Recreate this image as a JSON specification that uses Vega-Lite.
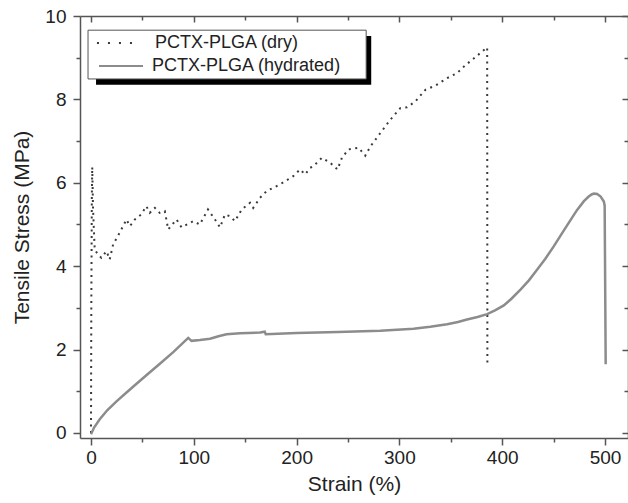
{
  "$schema": "https://vega.github.io/schema/vega-lite/v6.json",
  "width": 548,
  "height": 422,
  "autosize": "none",
  "padding": {"left": 80, "top": 16, "right": 0, "bottom": 65},
  "background": "white",
  "config": {
    "view": {"stroke": null},
    "font": "Liberation Sans",
    "axis": {
      "grid": false,
      "domainColor": "#555555",
      "domainWidth": 1.5,
      "tickColor": "#555555",
      "tickWidth": 1.5,
      "labelFont": "Liberation Sans",
      "labelFontSize": 19,
      "labelColor": "#222222",
      "titleFont": "Liberation Sans",
      "titleFontSize": 21,
      "titleFontWeight": "normal",
      "titleColor": "#222222"
    }
  },
  "datasets": {
    "dry": [
      {"strain": 0, "stress": 0.0}, {"strain": 0.3, "stress": 3.0}, {"strain": 0.8, "stress": 5.6}, {"strain": 1.2, "stress": 6.38},
      {"strain": 2.0, "stress": 5.36}, {"strain": 3.6, "stress": 4.4}, {"strain": 6.8, "stress": 4.28}, {"strain": 10.1, "stress": 4.2},
      {"strain": 15, "stress": 4.36}, {"strain": 18.2, "stress": 4.16}, {"strain": 21.5, "stress": 4.52}, {"strain": 27.8, "stress": 4.8},
      {"strain": 34.5, "stress": 5.12}, {"strain": 37.8, "stress": 4.96}, {"strain": 42.6, "stress": 5.12}, {"strain": 48.8, "stress": 5.24},
      {"strain": 53.8, "stress": 5.44}, {"strain": 57.2, "stress": 5.28}, {"strain": 62.1, "stress": 5.4}, {"strain": 66.8, "stress": 5.28},
      {"strain": 71.8, "stress": 5.32}, {"strain": 75.1, "stress": 4.88}, {"strain": 83.2, "stress": 5.12}, {"strain": 88.1, "stress": 4.93},
      {"strain": 99.4, "stress": 5.08}, {"strain": 105.8, "stress": 5.0}, {"strain": 113.8, "stress": 5.36}, {"strain": 120.6, "stress": 5.12},
      {"strain": 125.5, "stress": 4.93}, {"strain": 130.3, "stress": 5.24}, {"strain": 135.2, "stress": 5.2}, {"strain": 140.1, "stress": 5.08},
      {"strain": 146.6, "stress": 5.36}, {"strain": 154.7, "stress": 5.52}, {"strain": 157.8, "stress": 5.4}, {"strain": 164.4, "stress": 5.64},
      {"strain": 170.8, "stress": 5.8}, {"strain": 183.8, "stress": 5.96}, {"strain": 196.8, "stress": 6.16}, {"strain": 203.4, "stress": 6.32},
      {"strain": 208.3, "stress": 6.2}, {"strain": 213.2, "stress": 6.36}, {"strain": 216.4, "stress": 6.4}, {"strain": 224.6, "stress": 6.6},
      {"strain": 232.7, "stress": 6.48}, {"strain": 239.8, "stress": 6.32}, {"strain": 244.1, "stress": 6.6}, {"strain": 250.5, "stress": 6.8},
      {"strain": 260.3, "stress": 6.84}, {"strain": 266.8, "stress": 6.65}, {"strain": 271.7, "stress": 6.87}, {"strain": 281.4, "stress": 7.19},
      {"strain": 291.1, "stress": 7.51}, {"strain": 300.9, "stress": 7.79}, {"strain": 307.4, "stress": 7.81}, {"strain": 315.5, "stress": 7.95},
      {"strain": 325.3, "stress": 8.23}, {"strain": 335, "stress": 8.33}, {"strain": 346.4, "stress": 8.51}, {"strain": 356.1, "stress": 8.63},
      {"strain": 364.2, "stress": 8.82}, {"strain": 372.3, "stress": 8.98}, {"strain": 385.4, "stress": 9.25}, {"strain": 385.6, "stress": 1.65}
    ],
    "hydrated": [
      {"strain": 0, "stress": -0.03}, {"strain": 3, "stress": 0.13}, {"strain": 8.5, "stress": 0.33}, {"strain": 16, "stress": 0.55},
      {"strain": 24.8, "stress": 0.76}, {"strain": 34, "stress": 0.96}, {"strain": 44.3, "stress": 1.18}, {"strain": 55, "stress": 1.41},
      {"strain": 67, "stress": 1.66}, {"strain": 80, "stress": 1.94}, {"strain": 94.6, "stress": 2.28}, {"strain": 97.8, "stress": 2.21},
      {"strain": 106, "stress": 2.23}, {"strain": 115.8, "stress": 2.26}, {"strain": 124, "stress": 2.32}, {"strain": 131.8, "stress": 2.37},
      {"strain": 145, "stress": 2.39}, {"strain": 164.4, "stress": 2.41}, {"strain": 169, "stress": 2.43}, {"strain": 170, "stress": 2.37},
      {"strain": 200, "stress": 2.4}, {"strain": 240, "stress": 2.42}, {"strain": 281.4, "stress": 2.45}, {"strain": 313.8, "stress": 2.5},
      {"strain": 330, "stress": 2.55}, {"strain": 346.4, "stress": 2.61}, {"strain": 357, "stress": 2.66}, {"strain": 365.8, "stress": 2.72},
      {"strain": 376, "stress": 2.78}, {"strain": 385.4, "stress": 2.85}, {"strain": 393, "stress": 2.94}, {"strain": 401.6, "stress": 3.06},
      {"strain": 409, "stress": 3.22}, {"strain": 417.8, "stress": 3.44}, {"strain": 426, "stress": 3.66}, {"strain": 434.1, "stress": 3.92},
      {"strain": 442, "stress": 4.18}, {"strain": 450.3, "stress": 4.48}, {"strain": 458, "stress": 4.78}, {"strain": 466.6, "stress": 5.11},
      {"strain": 472.9, "stress": 5.35}, {"strain": 479.5, "stress": 5.56}, {"strain": 484.2, "stress": 5.67}, {"strain": 487, "stress": 5.72},
      {"strain": 489.3, "stress": 5.74}, {"strain": 492.4, "stress": 5.73}, {"strain": 495.8, "stress": 5.67}, {"strain": 498.9, "stress": 5.55},
      {"strain": 499.7, "stress": 5.45}, {"strain": 500.7, "stress": 1.65}
    ],
    "legend": [{"label": "PCTX-PLGA (dry)", "kind": "dry"}, {"label": "PCTX-PLGA (hydrated)", "kind": "hydrated"}]
  },
  "layer": [
    {
      "data": {"name": "dry"},
      "mark": {"type": "line", "color": "#3a3a3a", "strokeWidth": 2, "strokeDash": [2, 4.5], "strokeCap": "butt"},
      "encoding": {
        "x": {"field": "strain", "type": "quantitative",
          "scale": {"domain": [-10.7, 522.4], "nice": false, "zero": false},
          "axis": {"orient": "bottom", "values": [0, 50, 100, 150, 200, 250, 300, 350, 400, 450, 500],
            "labelExpr": "datum.value % 100 === 0 ? datum.label : ''",
            "tickSize": {"condition": {"test": "datum.value % 100 === 0", "value": 7}, "value": 4},
            "labelPadding": 3, "title": "Strain (%)", "titlePadding": 6}},
        "y": {"field": "stress", "type": "quantitative",
          "scale": {"domain": [-0.12, 10], "nice": false, "zero": false},
          "axis": {"orient": "left", "values": [0, 1, 2, 3, 4, 5, 6, 7, 8, 9, 10],
            "labelExpr": "datum.value % 2 === 0 ? datum.label : ''",
            "tickSize": {"condition": {"test": "datum.value % 2 === 0", "value": 7}, "value": 4},
            "labelPadding": 7, "title": "Tensile Stress (MPa)", "titlePadding": 12}}
      }
    },
    {
      "data": {"name": "hydrated"},
      "mark": {"type": "line", "color": "#8c8c8c", "strokeWidth": 2.5},
      "encoding": {
        "x": {"field": "strain", "type": "quantitative", "scale": {"domain": [-10.7, 522.4], "nice": false, "zero": false},
          "axis": {"orient": "top", "values": [0, 50, 100, 150, 200, 250, 300, 350, 400, 450, 500], "labels": false, "title": null,
            "tickSize": {"condition": {"test": "datum.value % 100 === 0", "value": -6}, "value": -4}}},
        "y": {"field": "stress", "type": "quantitative", "scale": {"domain": [-0.12, 10], "nice": false, "zero": false},
          "axis": {"orient": "right", "values": [0, 1, 2, 3, 4, 5, 6, 7, 8, 9, 10], "labels": false, "title": null,
            "tickSize": {"condition": {"test": "datum.value % 2 === 0", "value": -6}, "value": -4}}}
      }
    },
    {
      "data": {"values": [{"part": "shadow"}]},
      "mark": {"type": "rect", "color": "black"},
      "encoding": {
        "x": {"datum": 4.9, "type": "quantitative", "axis": null}, "x2": {"datum": 272.6},
        "y": {"datum": 9.52, "type": "quantitative", "axis": null}, "y2": {"datum": 8.35}
      }
    },
    {
      "data": {"values": [{"part": "box"}]},
      "mark": {"type": "rect", "fill": "white", "stroke": "#555555", "strokeWidth": 1},
      "encoding": {
        "x": {"datum": -2.9, "type": "quantitative", "axis": null}, "x2": {"datum": 267.7},
        "y": {"datum": 9.66, "type": "quantitative", "axis": null}, "y2": {"datum": 8.49}
      }
    },
    {
      "data": {"name": "legend"},
      "transform": [{"filter": "datum.kind === 'dry'"}],
      "mark": {"type": "rule", "color": "#3a3a3a", "strokeWidth": 2, "strokeDash": [2, 9], "strokeCap": "butt"},
      "encoding": {
        "x": {"datum": 5.8, "type": "quantitative", "axis": null}, "x2": {"datum": 44},
        "y": {"datum": 9.35, "type": "quantitative", "axis": null}
      }
    },
    {
      "data": {"name": "legend"},
      "transform": [{"filter": "datum.kind === 'hydrated'"}],
      "mark": {"type": "rule", "color": "#8c8c8c", "strokeWidth": 2},
      "encoding": {
        "x": {"datum": 7.8, "type": "quantitative", "axis": null}, "x2": {"datum": 50.6},
        "y": {"datum": 8.8, "type": "quantitative", "axis": null}
      }
    },
    {
      "data": {"name": "legend"},
      "transform": [{"filter": "datum.kind === 'dry'"}],
      "mark": {"type": "text", "align": "left", "baseline": "middle", "fontSize": 18, "font": "Liberation Sans", "color": "#222222"},
      "encoding": {
        "x": {"datum": 62.3, "type": "quantitative", "axis": null},
        "y": {"datum": 9.35, "type": "quantitative", "axis": null},
        "text": {"field": "label"}
      }
    },
    {
      "data": {"name": "legend"},
      "transform": [{"filter": "datum.kind === 'hydrated'"}],
      "mark": {"type": "text", "align": "left", "baseline": "middle", "fontSize": 18, "font": "Liberation Sans", "color": "#222222"},
      "encoding": {
        "x": {"datum": 59.4, "type": "quantitative", "axis": null},
        "y": {"datum": 8.8, "type": "quantitative", "axis": null},
        "text": {"field": "label"}
      }
    }
  ],
  "resolve": {"axis": {"x": "independent", "y": "independent"}}
}
